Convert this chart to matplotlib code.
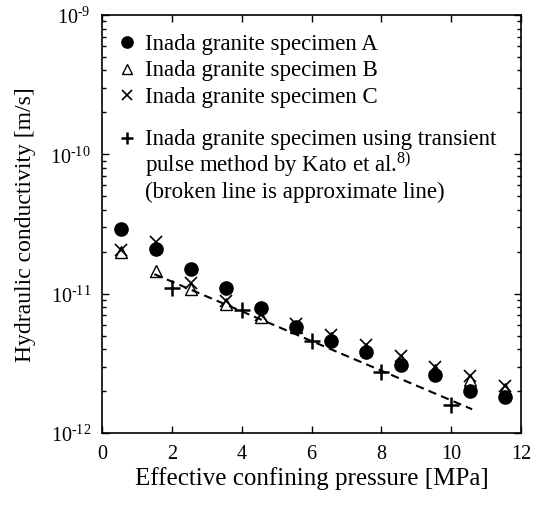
import matplotlib
matplotlib.use("Agg")
import matplotlib.pyplot as plt
from matplotlib.ticker import LogLocator, FuncFormatter, MultipleLocator, NullFormatter
import numpy as np

plt.rcParams['font.family'] = ['Liberation Serif', 'DejaVu Serif']
plt.rcParams['mathtext.fontset'] = 'custom'
plt.rcParams['mathtext.rm'] = 'Liberation Serif'
plt.rcParams['mathtext.it'] = 'Liberation Serif:italic'

# Effective confining pressure [MPa]
pressure = [0.55, 1.55, 2.55, 3.55, 4.55, 5.55, 6.55, 7.55, 8.55, 9.55, 10.55, 11.55]

# Hydraulic conductivity [m/s]
spec_a = [2.9e-11, 2.1e-11, 1.5e-11, 1.1e-11, 7.9e-12, 5.8e-12,
          4.6e-12, 3.8e-12, 3.1e-12, 2.6e-12, 2.0e-12, 1.8e-12]
spec_b = [2.0e-11, 1.45e-11, 1.08e-11, 8.5e-12, 6.8e-12, 5.8e-12,
          4.8e-12, 4.0e-12, 3.35e-12, 2.85e-12, 2.4e-12, 2.08e-12]
spec_c = [2.05e-11, 2.35e-11, 1.2e-11, 8.9e-12, 7.0e-12, 6.1e-12,
          5.05e-12, 4.25e-12, 3.55e-12, 3.0e-12, 2.55e-12, 2.18e-12]

# Kato et al. transient pulse method
kato_p = [2, 4, 6, 8, 10]
kato_k = [1.1e-11, 7.6e-12, 4.55e-12, 2.73e-12, 1.6e-12]

# approximate (broken) line end points
fit_p = [1.5, 10.6]
fit_k = [1.38e-11, 1.48e-12]

legend_labels = [
    ["Inada granite specimen A"],
    ["Inada granite specimen B"],
    ["Inada granite specimen C"],
    ["Inada granite specimen using transient",
     "pulse method by Kato et al.$^{8)}$",
     "(broken line is approximate line)"],
]
legend_rows = [0, 1, 2, 3.6]

fig = plt.figure(figsize=(5.35, 5.10), dpi=100)
ax = fig.add_axes([102 / 535, 76 / 510, 419 / 535, 418 / 510])

ax.plot(fit_p, fit_k, color="black", linestyle=(0, (4, 2.5)), linewidth=1.5)

styles = [
    dict(marker="o", markersize=9.5, markerfacecolor="black", markeredgecolor="black"),
    dict(marker="^", markersize=8.5, markerfacecolor="none", markeredgecolor="black", markeredgewidth=1.0),
    dict(marker="x", markersize=9, color="black", markeredgewidth=1.2),
    dict(marker="+", markersize=11, color="black", markeredgewidth=1.8),
]

ax.plot(pressure, spec_a, linestyle="none", **styles[0])
ax.plot(pressure, spec_b, linestyle="none", **styles[1])
ax.plot(pressure, spec_c, linestyle="none", **styles[2])
ax.plot(kato_p, kato_k, linestyle="none", **styles[3])

# hand-built legend (key marker + text lines)
top = 0.935
pitch = 26.5 / 418
for lines, st, row in zip(legend_labels, styles, legend_rows):
    yc = top - row * pitch
    key = dict(st)
    if key["marker"] == "+":
        key["markersize"] = 9
    else:
        key["markersize"] = key["markersize"] * 0.85
    ax.plot([0.060], [yc], transform=ax.transAxes, linestyle="none", clip_on=False, **key)
    for i, line in enumerate(lines):
        ax.text(0.103, yc - i * pitch - 0.016, line, transform=ax.transAxes,
                fontsize=16.5, va="baseline", ha="left")

ax.set_yscale("log")
ax.set_xlim(0, 12)
ax.set_ylim(1e-12, 1e-9)
ax.xaxis.set_major_locator(MultipleLocator(2))
ax.yaxis.set_major_locator(LogLocator(base=10))
ax.yaxis.set_minor_locator(LogLocator(base=10, subs=range(2, 10)))
ax.yaxis.set_major_formatter(FuncFormatter(
    lambda v, pos: r"$10^{\text{%d}}$" % int(round(np.log10(v)))))
ax.yaxis.set_minor_formatter(NullFormatter())

ax.tick_params(which="both", direction="in", top=True, right=True, labelsize=14.5, width=1)
ax.tick_params(which="major", length=5, pad=8)
ax.tick_params(which="minor", length=3)
for sp in ax.spines.values():
    sp.set_linewidth(1.2)

ax.set_xlabel("Effective confining pressure [MPa]", fontsize=18, labelpad=2)
ax.set_ylabel("Hydraulic conductivity [m/s]", fontsize=17, labelpad=10)

fig.savefig("out.png", dpi=100)
